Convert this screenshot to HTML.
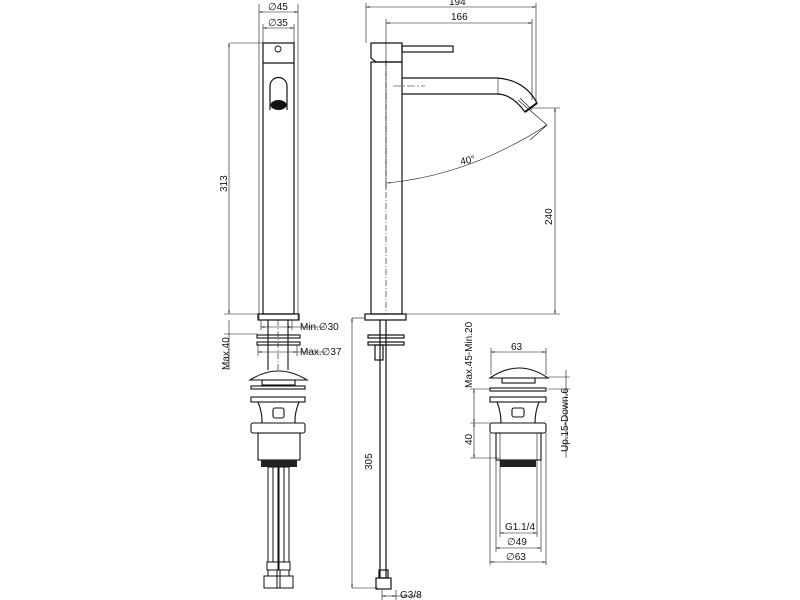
<!DOCTYPE html>
<html><head><style>
html,body{margin:0;padding:0;background:#fff;}
svg{display:block}
text{font-family:"Liberation Sans",Arial,sans-serif;font-size:10px;fill:#111}
</style></head><body>
<svg width="800" height="600" viewBox="0 0 800 600" xmlns="http://www.w3.org/2000/svg">
<defs>
<marker id="a" viewBox="0 0 10 10" refX="10" refY="5" markerWidth="6" markerHeight="6" orient="auto-start-reverse"><path d="M0,3 L10,5 L0,7z" fill="#111"/></marker>
</defs>
<g stroke="#111" fill="none" stroke-width="0.6">
<!-- ===== FRONT VIEW ===== -->
<line x1="259" y1="4" x2="259" y2="320"/><line x1="298" y1="4" x2="298" y2="320"/>
<line x1="259" y1="12" x2="298" y2="12" marker-start="url(#a)" marker-end="url(#a)"/>
<line x1="263" y1="24" x2="263" y2="43"/><line x1="294" y1="24" x2="294" y2="43"/>
<line x1="263" y1="28" x2="294" y2="28" marker-start="url(#a)" marker-end="url(#a)"/>
<line x1="230" y1="43" x2="263" y2="43"/>
<line x1="229" y1="43" x2="229" y2="314" marker-start="url(#a)" marker-end="url(#a)"/>
<line x1="224" y1="314" x2="259" y2="314"/>
</g>
<text x="268" y="10">∅45</text>
<text x="268" y="26">∅35</text>
<text transform="translate(227,192) rotate(-90)">313</text>
<g stroke="#111" fill="none" stroke-width="1.2">
<rect x="263" y="43" width="31" height="271"/>
<line x1="263" y1="63" x2="294" y2="63"/>
<circle cx="278" cy="49" r="3" stroke-width="0.9"/>
<path d="M270,110 V86 A8.5,8.5 0 0 1 287,86 V110"/>
<rect x="258" y="314" width="41" height="6"/>
</g>
<ellipse cx="278.5" cy="105" rx="8" ry="5" fill="#111"/>
<g stroke="#111" fill="none" stroke-width="0.6">
<line x1="278" y1="320" x2="278" y2="370" stroke-dasharray="6,2,1,2"/>
<line x1="261" y1="320" x2="261" y2="330"/><line x1="292" y1="320" x2="292" y2="330"/>
<line x1="261" y1="327" x2="292" y2="327" marker-start="url(#a)" marker-end="url(#a)"/>
<line x1="292" y1="327" x2="325" y2="327"/>
<line x1="258" y1="345" x2="258" y2="356"/><line x1="297" y1="345" x2="297" y2="356"/>
<line x1="258" y1="352" x2="297" y2="352" marker-start="url(#a)" marker-end="url(#a)"/>
<line x1="297" y1="352" x2="325" y2="352"/>
<line x1="224" y1="334" x2="258" y2="334"/>
<line x1="229" y1="320" x2="229" y2="370"/>
</g>
<text x="300" y="330">Min.∅30</text>
<text x="300" y="355">Max.∅37</text>
<text transform="translate(229,370) rotate(-90)">Max.40</text>
<g stroke="#111" fill="none" stroke-width="1.1">
<line x1="268" y1="320" x2="268" y2="370"/><line x1="288" y1="320" x2="288" y2="370"/>
<rect x="257" y="335" width="43" height="3"/><rect x="257" y="342" width="43" height="3"/>
<path d="M250,380 Q278,362 307,380 Z"/>
<rect x="262" y="380" width="33" height="5"/>
<rect x="251" y="386" width="54" height="3"/>
<rect x="251" y="397" width="54" height="5"/>
<path d="M258,402 Q262,412 262,420 V423 M299,402 Q295,412 295,420 V423"/>
<rect x="273" y="408" width="11" height="10" rx="2"/>
<rect x="251" y="423" width="54" height="10" rx="2"/>
<rect x="258" y="433" width="42" height="27"/>
</g>
<rect x="261" y="460" width="36" height="7" fill="#222"/>
<g stroke="#111" fill="none" stroke-width="1">
<rect x="268" y="467" width="10" height="95"/><rect x="279" y="467" width="10" height="95"/>
<line x1="273" y1="467" x2="273" y2="562"/><line x1="284" y1="467" x2="284" y2="562"/>
<rect x="267" y="562" width="11" height="8"/><rect x="279" y="562" width="11" height="8"/>
<rect x="268" y="570" width="9" height="6"/><rect x="280" y="570" width="9" height="6"/>
<path d="M264,576 h16 v12 h-16z M277,576 h16 v12 h-16z"/>
</g>
<!-- ===== SIDE VIEW ===== -->
<g stroke="#111" fill="none" stroke-width="0.6">
<line x1="366" y1="3" x2="366" y2="43"/><line x1="536" y1="3" x2="536" y2="105"/>
<line x1="366" y1="7" x2="536" y2="7" marker-start="url(#a)" marker-end="url(#a)"/>
<line x1="386" y1="19" x2="386" y2="190"/><line x1="532" y1="19" x2="532" y2="100"/>
<line x1="386" y1="23" x2="532" y2="23" marker-start="url(#a)" marker-end="url(#a)"/>
<line x1="386" y1="60" x2="386" y2="314" stroke-dasharray="6,2,1,2"/>
<line x1="531" y1="108" x2="560" y2="108"/>
<line x1="555" y1="108" x2="555" y2="314" marker-start="url(#a)" marker-end="url(#a)"/>
<line x1="406" y1="314" x2="560" y2="314"/>
<line x1="518" y1="100" x2="547" y2="125"/>
<line x1="547" y1="125" x2="530" y2="140"/>
<path d="M387,183 Q470,175 547,125" marker-start="url(#a)" marker-end="url(#a)"/>
<line x1="393" y1="86" x2="425" y2="86" stroke-dasharray="8,2,2,2"/>
<line x1="498" y1="78" x2="498" y2="94"/>
<line x1="520" y1="98" x2="532" y2="110"/>
<line x1="352" y1="318" x2="365" y2="318"/>
<line x1="352" y1="318" x2="352" y2="588" marker-start="url(#a)" marker-end="url(#a)"/>
<line x1="352" y1="588" x2="378" y2="588"/>
<line x1="382" y1="590" x2="382" y2="600"/><line x1="396" y1="590" x2="396" y2="600"/>
<line x1="382" y1="596" x2="396" y2="596" marker-start="url(#a)" marker-end="url(#a)"/>
<line x1="396" y1="596" x2="420" y2="596"/>
</g>
<text x="449" y="5">194</text>
<text x="451" y="20">166</text>
<text transform="translate(461,165) rotate(-12)">40°</text>
<text transform="translate(552,225) rotate(-90)">240</text>
<text transform="translate(372,470) rotate(-90)">305</text>
<text x="400" y="598">G3/8</text>
<g stroke="#111" fill="none" stroke-width="1.2">
<rect x="371" y="62" width="31" height="252"/>
<path d="M371,58 V43 H402 V62 H376 Z"/>
<rect x="402" y="46" width="51" height="6"/>
<path d="M402,78 H497 Q525,80 537,103 L525,112 Q512,94 497,94 H402"/>
<line x1="537" y1="103" x2="525" y2="112" stroke-width="2"/>
<rect x="365" y="314" width="41" height="6"/>
<line x1="380" y1="320" x2="380" y2="578"/><line x1="386" y1="320" x2="386" y2="578"/>
<rect x="368" y="335" width="36" height="3"/><rect x="368" y="342" width="36" height="3"/>
<rect x="375" y="345" width="8" height="15"/>
<rect x="379" y="570" width="9" height="8"/>
<rect x="376" y="578" width="15" height="11"/>
</g>
<!-- ===== RIGHT WASTE ===== -->
<g stroke="#111" fill="none" stroke-width="0.6">
<line x1="491" y1="348" x2="491" y2="375"/><line x1="546" y1="348" x2="546" y2="375"/>
<line x1="491" y1="352" x2="546" y2="352" marker-start="url(#a)" marker-end="url(#a)"/>
<line x1="470" y1="389" x2="490" y2="389"/><line x1="470" y1="423" x2="490" y2="423"/>
<line x1="470" y1="458" x2="500" y2="458"/>
<line x1="474" y1="389" x2="474" y2="423" marker-start="url(#a)" marker-end="url(#a)"/>
<line x1="474" y1="423" x2="474" y2="458" marker-start="url(#a)" marker-end="url(#a)"/>
<line x1="548" y1="377" x2="570" y2="377"/><line x1="548" y1="389" x2="570" y2="389"/>
<line x1="566" y1="370" x2="566" y2="458"/>
<line x1="500" y1="433" x2="500" y2="537"/><line x1="537" y1="433" x2="537" y2="537"/>
<line x1="496" y1="433" x2="496" y2="552"/><line x1="541" y1="433" x2="541" y2="552"/>
<line x1="490" y1="433" x2="490" y2="565"/><line x1="546" y1="433" x2="546" y2="565"/>
<line x1="500" y1="533" x2="537" y2="533" marker-start="url(#a)" marker-end="url(#a)"/>
<line x1="496" y1="548" x2="541" y2="548" marker-start="url(#a)" marker-end="url(#a)"/>
<line x1="490" y1="562" x2="546" y2="562" marker-start="url(#a)" marker-end="url(#a)"/>
</g>
<text x="511" y="350">63</text>
<text transform="translate(472,388) rotate(-90)">Max.45-Min.20</text>
<text transform="translate(472,445) rotate(-90)">40</text>
<text transform="translate(568,452) rotate(-90)">Up.15-Down.6</text>
<text x="505" y="530">G1.1/4</text>
<text x="507" y="545">∅49</text>
<text x="506" y="560">∅63</text>
<g stroke="#111" fill="none" stroke-width="1.1">
<path d="M490,378 Q519,358 548,378 Z"/>
<rect x="502" y="378" width="33" height="5"/>
<rect x="490" y="388" width="56" height="3"/>
<rect x="490" y="397" width="56" height="5"/>
<path d="M497,402 Q501,412 501,423 M539,402 Q535,412 535,423"/>
<rect x="512" y="408" width="12" height="9" rx="2"/>
<rect x="490" y="423" width="56" height="10" rx="2"/>
<rect x="496" y="433" width="45" height="27"/>
</g>
<rect x="500" y="460" width="36" height="7" fill="#222"/>
</svg>
</body></html>
